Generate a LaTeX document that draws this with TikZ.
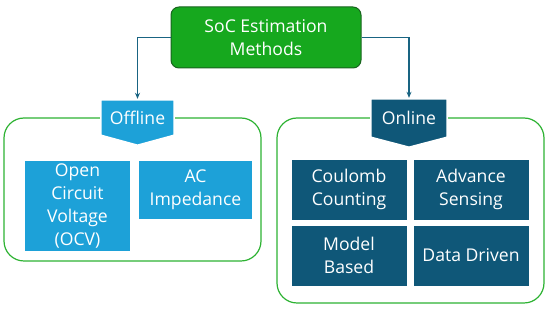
\documentclass[tikz,border=0pt]{standalone}
\usepackage{fontspec}
\setmainfont{Open Sans}
\usetikzlibrary{backgrounds,arrows.meta}
\definecolor{lblue}{RGB}{29,161,216}
\definecolor{dblue}{RGB}{15,87,120}
\definecolor{gfill}{RGB}{22,168,30}
\definecolor{gdark}{RGB}{25,100,30}
\definecolor{gline}{RGB}{45,178,50}
\definecolor{conn}{RGB}{25,100,130}
\begin{document}
\begin{tikzpicture}[x=1pt,y=-1pt,
  every node/.style={font=\fontsize{17.6}{22.8}\selectfont, text=white, align=center, inner sep=0pt},
  topbox/.style={draw=gdark, fill=gfill, line width=1pt, rounded corners=8pt, minimum width=190pt, minimum height=61pt},
  panel/.style={draw=gline, line width=1.2pt, rounded corners=20pt},
  tag/.style={minimum width=#1, minimum height=36pt},
  lbox/.style={fill=lblue},
  dbox/.style={fill=dblue, draw=white, line width=0.6pt, minimum width=116pt, minimum height=61pt},
  connector/.style={draw=conn, line width=1.1pt, -{Stealth[length=6pt,width=5pt]}}
]
\useasboundingbox (0,0) rectangle (550,312);
\begin{scope}[on background layer]
\node[panel, minimum width=257pt, minimum height=143pt] (offpanel) at (132.5,189.5) {};
\node[panel, minimum width=267pt, minimum height=185pt] (onpanel) at (410.5,210.5) {};
\end{scope}
\node[topbox] (top) at (266,37.5) {SoC Estimation\\Methods};
\node[tag=73pt, minimum height=35pt] (off) at (137.5,117.5) {Offline};
\node[tag=76pt, minimum height=38pt] (on) at (409,118) {Online};
\begin{scope}[on background layer]
\filldraw[fill=lblue, draw=white, line width=1.5pt] (off.north west) -- (off.north east) -- (off.south east) -- ([yshift=-10pt]off.south) -- (off.south west) -- cycle;
\filldraw[fill=dblue, draw=white, line width=1.5pt] (on.north west) -- (on.north east) -- (on.south east) -- ([yshift=-10pt]on.south) -- (on.south west) -- cycle;
\end{scope}
\node[lbox, minimum width=105pt, minimum height=90pt] (ocv) at (77.5,206) {Open\\Circuit\\Voltage\\(OCV)};
\node[lbox, minimum width=113pt, minimum height=58pt] (ac) at (195.5,190) {AC\\Impedance};
\node[dbox] (cc) at (349,189.5) {Coulomb\\Counting};
\node[dbox] (as) at (471,189.5) {Advance\\Sensing};
\node[dbox] (mb) at (349,255.5) {Model\\Based};
\node[dbox] (dd) at (471,255.5) {Data Driven};
\draw[connector] (top.west) -| ([yshift=1pt]off.north);
\draw[connector] (top.east) -| ([yshift=1pt]on.north);
\end{tikzpicture}
\end{document}
